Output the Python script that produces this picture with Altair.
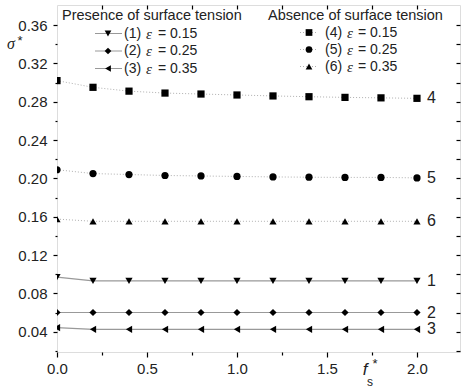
import altair as alt
import pandas as pd

# ---------------- data ----------------
f_s = [0.0, 0.2, 0.4, 0.6, 0.8, 1.0, 1.2, 1.4, 1.6, 1.8, 2.0]
s1 = [0.0970, 0.0930, 0.0930, 0.0930, 0.0930, 0.0930, 0.0930, 0.0930, 0.0930, 0.0930, 0.0930]
s2 = [0.0600, 0.0600, 0.0600, 0.0600, 0.0600, 0.0600, 0.0600, 0.0600, 0.0600, 0.0600, 0.0600]
s3 = [0.0442, 0.0425, 0.0425, 0.0425, 0.0425, 0.0425, 0.0425, 0.0425, 0.0425, 0.0425, 0.0425]
s4 = [0.3020, 0.2950, 0.2910, 0.2890, 0.2880, 0.2870, 0.2860, 0.2852, 0.2845, 0.2840, 0.2835]
s5 = [0.2090, 0.2050, 0.2040, 0.2030, 0.2025, 0.2020, 0.2015, 0.2012, 0.2010, 0.2010, 0.2005]
s6 = [0.1575, 0.1552, 0.1552, 0.1552, 0.1552, 0.1552, 0.1552, 0.1552, 0.1552, 0.1552, 0.1552]

series_ids = ["1", "2", "3", "4", "5", "6"]
eps_labels = ["0.15", "0.25", "0.35", "0.15", "0.25", "0.35"]
shapes = ["triangle-down", "diamond", "triangle-left", "square", "circle", "triangle-up"]
groups = ["with", "with", "with", "without", "without", "without"]

x_major = [0.0, 0.5, 1.0, 1.5, 2.0]
x_minor = [0.25, 0.75, 1.25, 1.75]
x_top = [0.25, 0.5, 0.75, 1.0, 1.25, 1.5, 1.75, 2.0]
y_major = [0.04, 0.08, 0.12, 0.16, 0.20, 0.24, 0.28, 0.32, 0.36]
y_minor = [0.02, 0.06, 0.10, 0.14, 0.18, 0.22, 0.26, 0.30, 0.34]
y_right = sorted(y_major + y_minor)

rows = []
for sid, grp, vals in zip(series_ids, groups, [s1, s2, s3, s4, s5, s6]):
    for xv, yv in zip(f_s, vals):
        rows.append({"series": sid, "group": grp, "fs": xv, "sigma": yv})
df = pd.DataFrame(rows)

X_DOM = [0.0, 2.239]
Y_DOM = [0.0188, 0.3809]
FONT = "Liberation Sans"
TXT = "#222222"

def xe(axis):
    return alt.X("fs:Q", scale=alt.Scale(domain=X_DOM, nice=False, zero=False), axis=axis)

def ye(axis):
    return alt.Y("sigma:Q", scale=alt.Scale(domain=Y_DOM, nice=False, zero=False), axis=axis)

common_axis = dict(domain=False, grid=False, title=None, tickColor="black", tickWidth=1.2)

ax_bottom = alt.Axis(orient="bottom", values=x_major, format=".1f", tickSize=5,
                     labelPadding=4, labelFont=FONT, labelFontSize=15, labelColor=TXT,
                     labelFlush=False, labelOverlap=False, **common_axis)
ax_bottom_minor = alt.Axis(orient="bottom", values=x_minor, labels=False, tickSize=3, **common_axis)
ax_top = alt.Axis(orient="top", values=x_top, labels=False, tickSize=4, offset=-4, **common_axis)
ax_left = alt.Axis(orient="left", values=y_major, format=".2f", tickSize=4,
                   labelPadding=6, labelFont=FONT, labelFontSize=15, labelColor=TXT,
                   labelFlush=False, labelOverlap=False, **common_axis)
ax_left_minor = alt.Axis(orient="left", values=y_minor, labels=False, tickSize=2, **common_axis)
ax_right = alt.Axis(orient="right", values=y_right, labels=False, tickSize=4, offset=-4, **common_axis)

shape_scale = alt.Scale(domain=series_ids, range=shapes)

base = alt.Chart(df)

lines_with = base.transform_filter(alt.datum.group == "with").mark_line(
    color="#999999", strokeWidth=1.2
).encode(x=xe(ax_bottom), y=ye(ax_left), detail="series:N")

lines_without = base.transform_filter(alt.datum.group == "without").mark_line(
    color="#b0b0b0", strokeWidth=1, strokeDash=[1, 2]
).encode(x=xe(ax_bottom_minor), y=ye(ax_left_minor), detail="series:N")

points = base.mark_point(filled=True, color="black", opacity=1, size=52, clip=True).encode(
    x=xe(ax_top), y=ye(ax_right),
    shape=alt.Shape("series:N", scale=shape_scale, legend=None),
)

end_labels = base.transform_filter(alt.datum.fs == 2.0).mark_text(
    align="left", baseline="middle", dx=10, fontSize=16, font=FONT, color=TXT
).encode(x=xe(None), y=ye(None), text="series:N")

layers = [lines_with, lines_without, points, end_labels]

# ---------------- manual legend ----------------
def txt(s, x, y, size=14, style="normal", font=FONT, align="left", baseline="middle"):
    return alt.Chart(df).transform_filter(alt.datum.fs == 0.0).transform_filter(
        alt.datum.series == "1").mark_text(
        text=s, align=align, baseline=baseline, fontSize=size, fontStyle=style,
        font=font, color=TXT
    ).encode(x=alt.value(x), y=alt.value(y))

headers = [("Presence of surface tension", 5, 15), ("Absence of surface tension", 211, 15)]
for s, x, y in headers:
    layers.append(txt(s, x, y, size=14.5, baseline="alphabetic"))

left_rows_y = [28.5, 46, 63.5]
right_rows_y = [27.5, 44.5, 61.5]
for i in range(6):
    left = i < 3
    yy = left_rows_y[i] if left else right_rows_y[i - 3]
    if left:
        rx1, rx2, mx, tx, ex, vx = 38, 65, 51, 67, 89, 101
        rule_color, dash = "#999999", [1, 0]
    else:
        rx1, rx2, mx, tx, ex, vx = 243, 261, 252, 268, 290, 301
        rule_color, dash = "#b0b0b0", [1, 2]
    sub = alt.Chart(df).transform_filter(alt.datum.fs == 0.0).transform_filter(
        alt.datum.series == series_ids[i])
    layers.append(sub.mark_rule(color=rule_color, strokeWidth=1.2, strokeDash=dash).encode(
        x=alt.value(rx1), x2=alt.value(rx2), y=alt.value(yy)))
    layers.append(sub.mark_point(filled=True, color="black", opacity=1, size=45).encode(
        x=alt.value(mx), y=alt.value(yy), shape=alt.value(shapes[i])))
    layers.append(txt(f"({series_ids[i]})", tx, yy))
    layers.append(txt("ε", ex, yy, style="italic", font="Liberation Serif", size=15))
    layers.append(txt(f"= {eps_labels[i]}", vx, yy))

# ---------------- axis titles ----------------
layers.append(txt("σ", -46, 38.5, size=16, style="italic", font="Liberation Serif", align="center"))
layers.append(txt("*", -37, 36, size=13, align="center"))
layers.append(txt("f", 308, 365, size=17, style="italic", align="center"))
layers.append(txt("s", 313, 377, size=12, align="center"))
layers.append(txt("*", 318, 359, size=13, align="center"))

chart = alt.layer(*layers).resolve_axis(x="independent", y="independent").properties(
    width=403, height=347,
    autosize=alt.AutoSizeParams(type="none"),
    padding={"left": 57, "top": 5, "right": 1, "bottom": 38},
).configure_view(stroke="black", strokeWidth=1.2).configure(background="white")

chart.save("out.html", embed_options={"renderer": "svg", "actions": False})
